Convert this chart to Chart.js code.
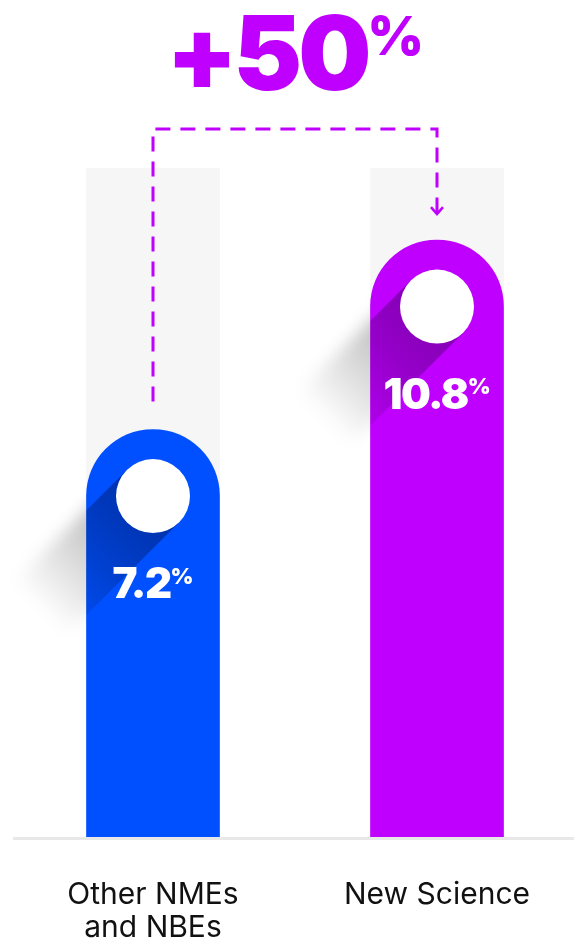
<!DOCTYPE html>
<html lang="en">
<head>
    <meta charset="UTF-8">
    <title>New Science uplift</title>
    <script src="https://cdn.jsdelivr.net/npm/chart.js"></script>
    <style>
        html, body { margin: 0; padding: 0; background: #fff; overflow: hidden; }
        #wrap { width: 574px; height: 938px; position: relative; overflow: hidden; }
        #chart { display: block; }
    </style>
</head>
<body>
    <div id="wrap"><canvas id="chart" width="580" height="938"></canvas></div>

    <script>
        // chart data
        const categories = [["Other NMEs", "and NBEs"], "New Science"];
        const values = [7.2, 10.8];
        const barColors = ['#0050ff', '#bf00ff'];
        const shadeColors = ['rgba(0, 10, 70, 0.45)', 'rgba(60, 0, 90, 0.45)'];
        const trackTop = 12.17;   // grey track runs up to here
        const floorValue = -0.54; // bars stand a little below zero on the baseline

        const accent = '#bf00ff';
        const FONT = 'Inter, "Noto Sans", sans-serif';

        // percent label: big number with a small raised % sign
        function drawPct(ctx, num, cx, baseline, big, small, color, spacing) {
            ctx.save();
            ctx.fillStyle = color;
            ctx.textAlign = 'left';
            ctx.textBaseline = 'alphabetic';
            ctx.letterSpacing = spacing + 'px';
            ctx.font = '900 ' + big + 'px ' + FONT;
            const w1 = ctx.measureText(num).width;
            ctx.letterSpacing = '0px';
            ctx.font = '900 ' + small + 'px ' + FONT;
            const w2 = ctx.measureText('%').width;
            const x0 = cx - (w1 + w2) / 2;
            ctx.letterSpacing = spacing + 'px';
            ctx.font = '900 ' + big + 'px ' + FONT;
            ctx.fillText(num, x0, baseline);
            const top = baseline - big * 0.727;
            ctx.letterSpacing = '0px';
            ctx.font = '900 ' + small + 'px ' + FONT;
            ctx.fillText('%', x0 + w1, top + small * 0.74);
            ctx.restore();
        }

        const decor = {
            id: 'decor',
            beforeDatasetsDraw(chart) {
                const ctx = chart.ctx;
                const bottom = chart.chartArea.bottom;
                ctx.save();
                ctx.strokeStyle = '#e8e8e8';
                ctx.lineWidth = 3;
                ctx.beginPath();
                ctx.moveTo(13, bottom + 1.5);
                ctx.lineTo(chart.width, bottom + 1.5);
                ctx.stroke();
                ctx.restore();
            },
            afterDatasetsDraw(chart) {
                const ctx = chart.ctx;
                const bars = chart.getDatasetMeta(0).data;
                const area = chart.chartArea;

                bars.forEach((bar, i) => {
                    const half = bar.width / 2;
                    const left = bar.x - half, right = bar.x + half;
                    const cx = bar.x, cy = bar.y + half;
                    const r = 37;
                    const k = r / Math.SQRT2;
                    const L = 200;
                    const dx = -L / Math.SQRT2, dy = L / Math.SQRT2;
                    const poly = () => {
                        ctx.beginPath();
                        ctx.moveTo(cx - k, cy - k);
                        ctx.lineTo(cx + k, cy + k);
                        ctx.lineTo(cx + k + dx, cy + k + dy);
                        ctx.lineTo(cx - k + dx, cy - k + dy);
                        ctx.closePath();
                    };
                    const grad = (c0) => {
                        const g = ctx.createLinearGradient(cx, cy, cx + dx * 0.8, cy + dy * 0.8);
                        g.addColorStop(0, c0);
                        g.addColorStop(1, 'rgba(0,0,0,0)');
                        return g;
                    };

                    // long shadow inside the bar
                    ctx.save();
                    ctx.beginPath();
                    ctx.rect(left, bar.y, right - left, area.bottom - bar.y);
                    ctx.clip();
                    poly();
                    ctx.fillStyle = grad(shadeColors[i]);
                    ctx.fill();
                    ctx.restore();

                    // soft grey shadow falling outside, to the left
                    ctx.save();
                    ctx.beginPath();
                    ctx.rect(0, 0, left, area.bottom);
                    ctx.clip();
                    ctx.filter = 'blur(8px)';
                    poly();
                    ctx.fillStyle = grad('rgba(0,0,0,0.38)');
                    ctx.fill();
                    ctx.restore();

                    // white disc
                    ctx.save();
                    ctx.fillStyle = '#ffffff';
                    ctx.beginPath();
                    ctx.arc(cx, cy, r, 0, Math.PI * 2);
                    ctx.fill();
                    ctx.restore();

                    drawPct(ctx, String(values[i]), cx, cy + 102, 42, 22, '#ffffff', -1.5);
                });

                // dashed bracket between the two bars
                const a = bars[0], b = bars[1];
                const topY = 129;
                ctx.save();
                ctx.strokeStyle = accent;
                ctx.lineWidth = 3;
                ctx.setLineDash([15, 10]);
                ctx.beginPath();
                ctx.moveTo(a.x, a.y - 28);
                ctx.lineTo(a.x, topY);
                ctx.lineTo(b.x, topY);
                ctx.lineTo(b.x, b.y - 27);
                ctx.stroke();
                ctx.setLineDash([]);
                ctx.lineWidth = 2.5;
                ctx.beginPath();
                ctx.moveTo(b.x - 6, b.y - 33);
                ctx.lineTo(b.x, b.y - 26);
                ctx.lineTo(b.x + 6, b.y - 33);
                ctx.stroke();
                ctx.restore();

                // headline uplift
                const uplift = Math.round((values[1] / values[0] - 1) * 100);
                drawPct(ctx, '+' + uplift, (a.x + b.x) / 2, 90, 103, 54, accent, -4);
            }
        };

        new Chart(document.getElementById('chart'), {
            type: 'bar',
            data: {
                labels: categories,
                datasets: [
                    {
                        data: values,
                        backgroundColor: barColors,
                        borderRadius: { topLeft: 999, topRight: 999 },
                        borderSkipped: 'bottom',
                        barThickness: 133,
                        grouped: false,
                        base: floorValue,
                        order: 0
                    },
                    {
                        data: values.map(() => trackTop),
                        backgroundColor: '#f6f6f6',
                        barThickness: 133,
                        grouped: false,
                        base: floorValue,
                        order: 1
                    }
                ]
            },
            plugins: [decor],
            options: {
                responsive: false,
                animation: false,
                events: [],
                layout: { padding: { top: 168, left: 11, right: 1, bottom: 0 } },
                plugins: {
                    legend: { display: false },
                    tooltip: { enabled: false }
                },
                scales: {
                    x: {
                        grid: { display: false },
                        border: { display: false },
                        afterFit: (scale) => { scale.height = 101; },
                        ticks: {
                            color: '#111111',
                            font: { family: FONT, size: 30, lineHeight: 1.1 },
                            padding: 33,
                            maxRotation: 0,
                            autoSkip: false
                        }
                    },
                    y: {
                        display: false,
                        min: floorValue,
                        max: trackTop
                    }
                }
            }
        });
    </script>
</body>
</html>
